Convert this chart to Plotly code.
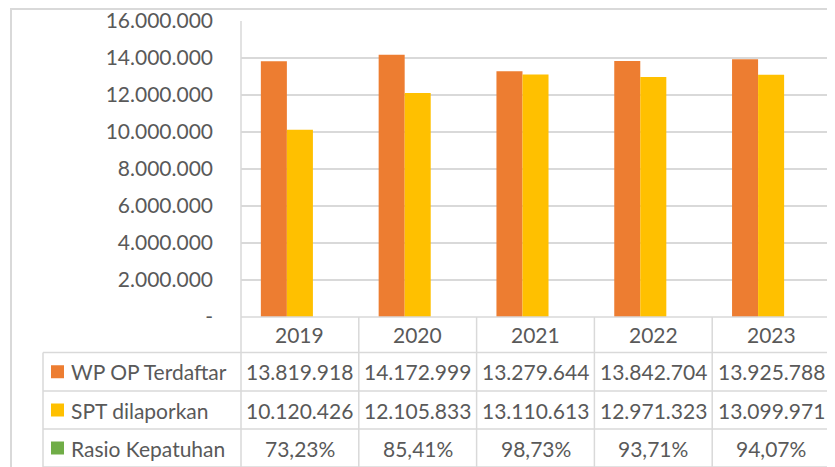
import plotly.graph_objects as go

# ---- data ----
years = ["2019", "2020", "2021", "2022", "2023"]
wp_op_terdaftar = [13819918, 14172999, 13279644, 13842704, 13925788]
spt_dilaporkan = [10120426, 12105833, 13110613, 12971323, 13099971]
rasio_kepatuhan = [73.23, 85.41, 98.73, 93.71, 94.07]  # percent
series_names = ["WP OP Terdaftar", "SPT dilaporkan", "Rasio Kepatuhan"]
y_tick_vals = [0, 2000000, 4000000, 6000000, 8000000, 10000000, 12000000, 14000000, 16000000]
y_tick_text = ["-", "2.000.000", "4.000.000", "6.000.000", "8.000.000",
               "10.000.000", "12.000.000", "14.000.000", "16.000.000"]
y_max = 16000000

# ---- styling ----
OFF = 8  # default page body margin
W, H = 835 - OFF, 467 - OFF
colors = ["#ED7D31", "#FFC000", "#70AD47"]
txt = "#595959"
grid = "#d9d9d9"
FONT = "Lato"
FS = 21


def px_x(x):
    return (x - OFF) / W


def px_y(y):
    return 1 - (y - OFF) / H


def fmt_int(v):
    return f"{v:,}".replace(",", ".")


def fmt_pct(v):
    return f"{v:.2f}%".replace(".", ",")


plot_left, plot_right, plot_top, plot_bottom = 241, 830, 21, 317

fig = go.Figure()
fig.add_trace(go.Bar(x=years, y=wp_op_terdaftar, name=series_names[0],
                     marker=dict(color=colors[0], line=dict(width=0))))
fig.add_trace(go.Bar(x=years, y=spt_dilaporkan, name=series_names[1],
                     marker=dict(color=colors[1], line=dict(width=0))))
fig.add_trace(go.Bar(x=years, y=[v / 100 for v in rasio_kepatuhan], name=series_names[2],
                     marker=dict(color=colors[2], line=dict(width=0))))

shapes = []
annotations = []
line = dict(color=grid, width=1.5)

# outer chart border
shapes.append(dict(type="rect", xref="paper", yref="paper",
                   x0=px_x(11), x1=px_x(831), y0=px_y(490), y1=px_y(9),
                   line=dict(color=grid, width=2), layer="below"))

# table geometry
row_lines = [317, 352.5, 391, 429, 467]
row_centers = [(row_lines[i] + row_lines[i + 1]) / 2 for i in range(4)]
table_left = 43

# horizontal lines
shapes.append(dict(type="line", xref="paper", yref="paper",
                   x0=px_x(plot_left), x1=px_x(plot_right), y0=px_y(317), y1=px_y(317), line=line))
for y in row_lines[1:]:
    shapes.append(dict(type="line", xref="paper", yref="paper",
                       x0=px_x(table_left), x1=px_x(plot_right), y0=px_y(y), y1=px_y(y), line=line))
# vertical lines
shapes.append(dict(type="line", xref="paper", yref="paper",
                   x0=px_x(plot_left), x1=px_x(plot_left), y0=px_y(plot_top), y1=px_y(480), line=line))
for i in range(1, len(years) + 1):
    shapes.append(dict(type="line", xref="x", yref="paper",
                       x0=i - 0.5, x1=i - 0.5, y0=px_y(317), y1=px_y(480), line=line))
shapes.append(dict(type="line", xref="paper", yref="paper",
                   x0=px_x(table_left), x1=px_x(table_left), y0=px_y(352.5), y1=px_y(480), line=line))

# header row: years
for i, yr in enumerate(years):
    annotations.append(dict(x=i, xref="x", y=px_y(row_centers[0]), yref="paper",
                            text=yr, showarrow=False, xanchor="center", yanchor="middle",
                            font=dict(family=FONT, size=FS, color=txt)))

rows = [
    [fmt_int(v) for v in wp_op_terdaftar],
    [fmt_int(v) for v in spt_dilaporkan],
    [fmt_pct(v) for v in rasio_kepatuhan],
]
for r, (name, vals) in enumerate(zip(series_names, rows)):
    yc = row_centers[r + 1]
    shapes.append(dict(type="rect", xref="paper", yref="paper",
                       x0=px_x(51), x1=px_x(64), y0=px_y(yc + 6.5), y1=px_y(yc - 6.5),
                       fillcolor=colors[r], line=dict(width=0)))
    annotations.append(dict(x=px_x(69), xref="paper", y=px_y(yc), yref="paper",
                            text=name, showarrow=False, xanchor="left", yanchor="middle",
                            font=dict(family=FONT, size=FS, color=txt)))
    for i, v in enumerate(vals):
        annotations.append(dict(x=i, xref="x", y=px_y(yc), yref="paper",
                                text=v, showarrow=False, xanchor="center", yanchor="middle",
                                font=dict(family=FONT, size=FS, color=txt)))

fig.update_layout(
    width=W, height=H,
    margin=dict(l=0, r=0, t=0, b=0, autoexpand=False),
    paper_bgcolor="white", plot_bgcolor="white",
    showlegend=False,
    barmode="group", bargap=0.337, bargroupgap=0,
    xaxis=dict(type="category", domain=[px_x(plot_left), px_x(plot_right)], range=[-0.5, 4.5],
               showticklabels=False, showgrid=False, zeroline=False, showline=False, ticks="",
               automargin=False),
    yaxis=dict(domain=[px_y(plot_bottom), px_y(plot_top)], range=[0, y_max],
               tickmode="array", tickvals=y_tick_vals, ticktext=y_tick_text, ticks="",
               ticklabelstandoff=27, automargin=False, ticklabeloverflow="allow",
               tickfont=dict(family=FONT, size=FS, color=txt),
               showgrid=True, gridcolor=grid, gridwidth=1.5,
               zeroline=False, showline=False),
    shapes=shapes,
    annotations=annotations,
)

fig.write_html("out.html")
